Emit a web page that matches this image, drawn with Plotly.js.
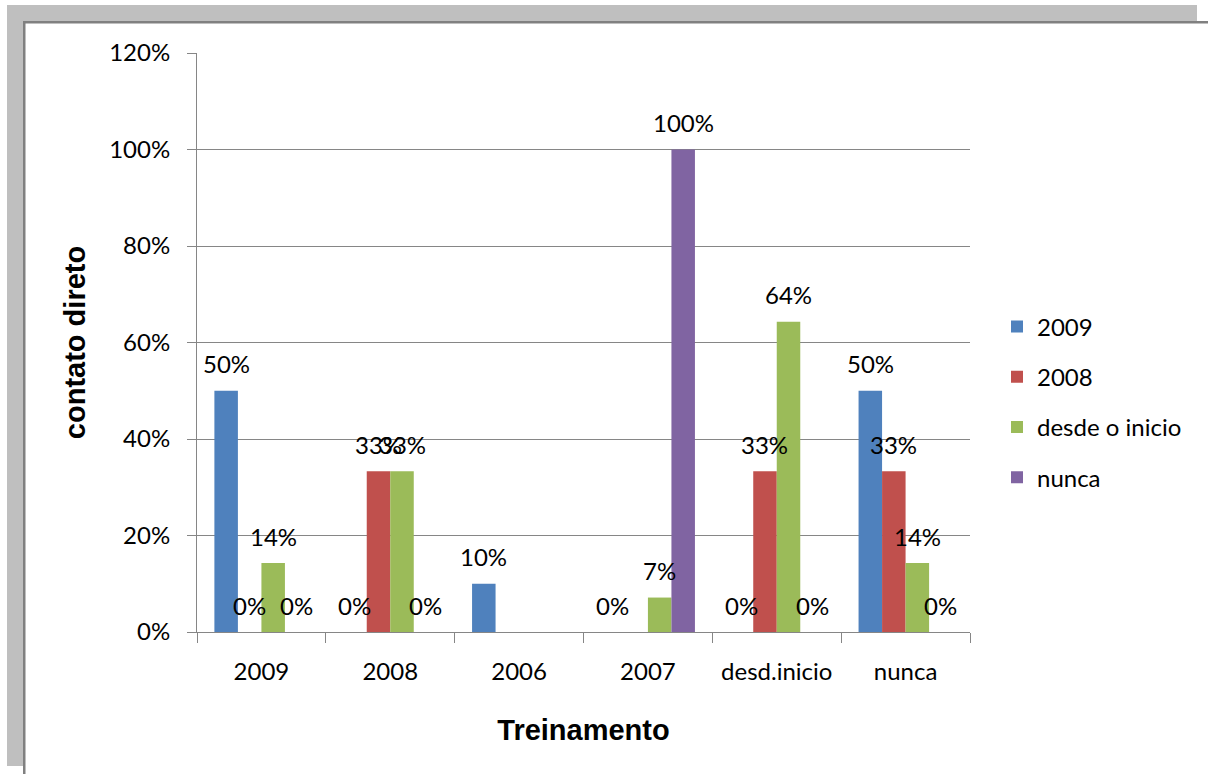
<!DOCTYPE html>
<html><head><meta charset="utf-8">
<script src="https://cdn.plot.ly/plotly-3.0.1.min.js"></script>
<style>html,body{margin:0;padding:0;background:#fff}#chart{width:1208px;height:774px}</style>
</head><body><div id="chart"></div>
<script>
// ---- data ----
const categories = ['2009', '2008', '2006', '2007', 'desd.inicio', 'nunca'];
const seriesNames = ['2009', '2008', 'desde o inicio', 'nunca'];
const s2009  = [50, 0, 10, 0, 0, 50];
const s2008  = [0, 33.33, null, null, 33.33, 33.33];
const sDesde = [14.29, 33.33, null, 7.14, 64.29, 14.29];
const sNunca = [0, 0, null, 100, 0, 0];
const yTickVals = [0, 20, 40, 60, 80, 100, 120];
const yTickText = ['0%', '20%', '40%', '60%', '80%', '100%', '120%'];

// ---- style ----
const colors = ['#4F81BD', '#C0504D', '#9BBB59', '#8064A2'];
const W = 1208, H = 774;
const M = {l: 197, r: 238, t: 53, b: 142};
const BARGAP = 0.27;
const numFont = {family: 'Lato, "Open Sans", sans-serif', size: 24, color: '#000'};
const titleFont = {family: '"Liberation Sans", Arial, sans-serif', size: 29, color: '#000', weight: 'bold'};
const gridCol = '#868686';

const series = [s2009, s2008, sDesde, sNunca];
const traces = series.map((vals, k) => ({
  type: 'bar',
  name: seriesNames[k],
  x: categories,
  y: vals,
  marker: {color: colors[k], line: {width: 0}},
  legendgroup: 'g' + k,
  hoverinfo: 'skip'
}));

// data labels
const annotations = [];
series.forEach((vals, k) => {
  vals.forEach((v, i) => {
    if (v === null) return;
    annotations.push({
      x: i + (k - 1.5) * (1 - BARGAP) / 4,
      y: v,
      xref: 'x', yref: 'y',
      text: Math.round(v) + '%',
      showarrow: false,
      yanchor: 'middle',
      yshift: 27,
      font: numFont
    });
  });
});

// frame shapes in pixel coordinates
const pw = W - M.l - M.r, ph = H - M.t - M.b;
const px = x => (x - M.l) / pw;
const py = y => (H - M.b - y) / ph;
const rect = (x0, y0, x1, y1, col) => ({
  type: 'rect', xref: 'paper', yref: 'paper',
  x0: px(x0), x1: px(x1), y0: py(y1), y1: py(y0),
  fillcolor: col, line: {width: 0}, layer: 'below'
});
const shapes = [
  rect(7, 5, 1197, 21, '#bfbfbf'),
  rect(7, 5, 23, 766, '#bfbfbf'),
  rect(23, 21, 1208, 23.5, '#808080'),
  rect(23, 21, 25.5, 774, '#808080')
];

const layout = {
  width: W, height: H,
  margin: M,
  paper_bgcolor: '#fff', plot_bgcolor: '#fff',
  barmode: 'group', bargap: BARGAP, bargroupgap: 0,
  font: numFont,
  showlegend: true,
  legend: {
    xref: 'container', yref: 'container',
    x: 997 / W, xanchor: 'left',
    y: 1 - 402 / H, yanchor: 'middle',
    font: numFont, tracegroupgap: 16, traceorder: 'grouped',
    bgcolor: 'rgba(0,0,0,0)', borderwidth: 0
  },
  xaxis: {
    type: 'category',
    tickson: 'boundaries',
    ticks: 'outside', ticklen: 10, tickcolor: gridCol, tickwidth: 1,
    showline: true, linecolor: gridCol, linewidth: 1,
    showgrid: false, zeroline: false,
    tickfont: numFont, ticklabelstandoff: 18,
    title: {text: 'Treinamento', font: titleFont, standoff: 35}
  },
  yaxis: {
    range: [0, 120],
    tickvals: yTickVals, ticktext: yTickText,
    ticks: 'outside', ticklen: 9, tickcolor: gridCol, tickwidth: 1,
    showline: true, linecolor: gridCol, linewidth: 1,
    showgrid: true, gridcolor: gridCol, gridwidth: 1,
    zeroline: false,
    tickfont: numFont, ticklabelstandoff: 12,
    title: {text: 'contato direto', font: titleFont, standoff: 15}
  },
  annotations: annotations,
  shapes: shapes
};

Plotly.newPlot('chart', traces, layout, {displayModeBar: false, staticPlot: true});
</script>
</body></html>
